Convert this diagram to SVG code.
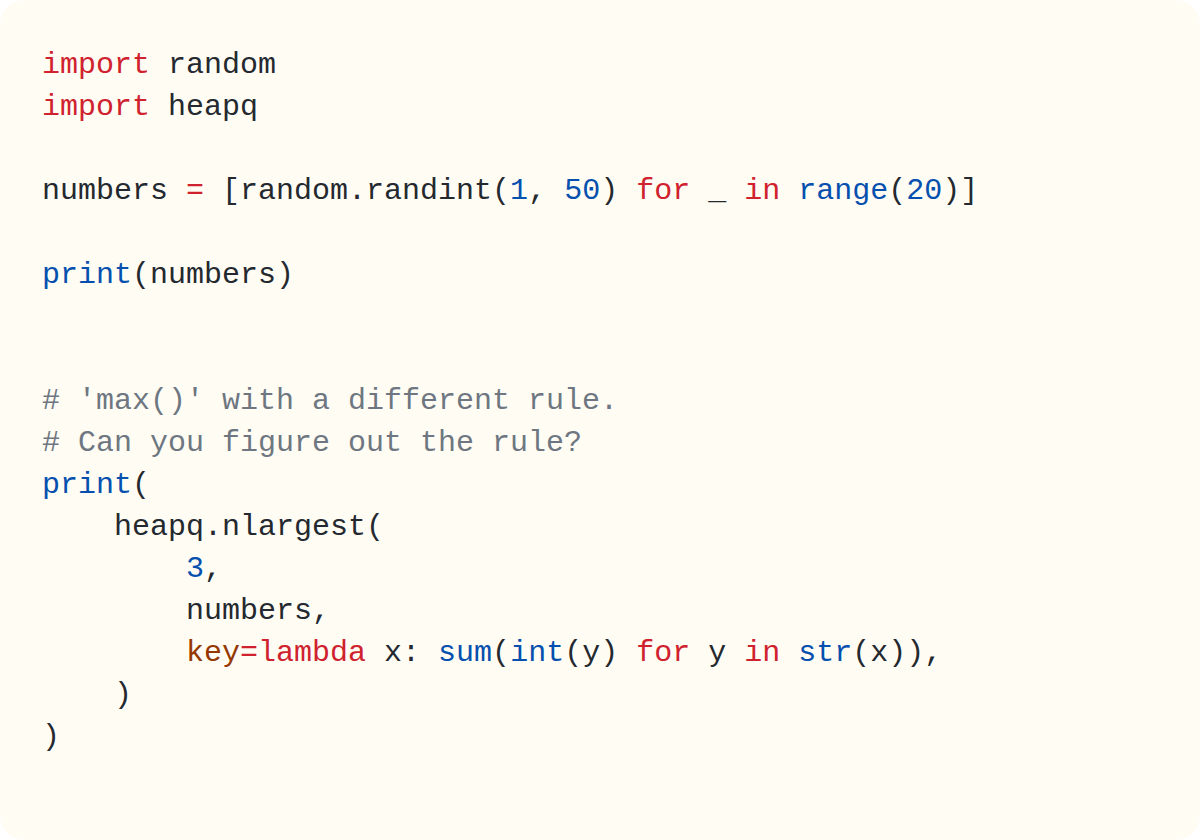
<svg xmlns="http://www.w3.org/2000/svg" width="1200" height="840" viewBox="0 0 1200 840">
<style>
text{font-family:"Liberation Mono","DejaVu Sans Mono",monospace;font-size:30px;fill:#24292f;white-space:pre}
.k{fill:#cf222e}.b{fill:#0550ae}.c{fill:#6e7781}.o{fill:#953800}
</style>
<rect x="0" y="0" width="1200" height="840" rx="24" fill="#fffcf4"/>
<g id="code" xml:space="preserve">
<text x="42" y="73"><tspan class="k">import</tspan> random</text>
<text x="42" y="115"><tspan class="k">import</tspan> heapq</text>
<text x="42" y="199">numbers <tspan class="k">=</tspan> [random.randint(<tspan class="b">1</tspan>, <tspan class="b">50</tspan>) <tspan class="k">for</tspan> _ <tspan class="k">in</tspan> <tspan class="b">range</tspan>(<tspan class="b">20</tspan>)]</text>
<text x="42" y="283"><tspan class="b">print</tspan>(numbers)</text>
<text x="42" y="409" class="c"># 'max()' with a different rule.</text>
<text x="42" y="451" class="c"># Can you figure out the rule?</text>
<text x="42" y="493"><tspan class="b">print</tspan>(</text>
<text x="42" y="535">    heapq.nlargest(</text>
<text x="42" y="577">        <tspan class="b">3</tspan>,</text>
<text x="42" y="619">        numbers,</text>
<text x="42" y="661">        <tspan class="o">key</tspan><tspan class="k">=lambda</tspan> x: <tspan class="b">sum</tspan>(<tspan class="b">int</tspan>(y) <tspan class="k">for</tspan> y <tspan class="k">in</tspan> <tspan class="b">str</tspan>(x)),</text>
<text x="42" y="703">    )</text>
<text x="42" y="745">)</text>
</g>
</svg>
